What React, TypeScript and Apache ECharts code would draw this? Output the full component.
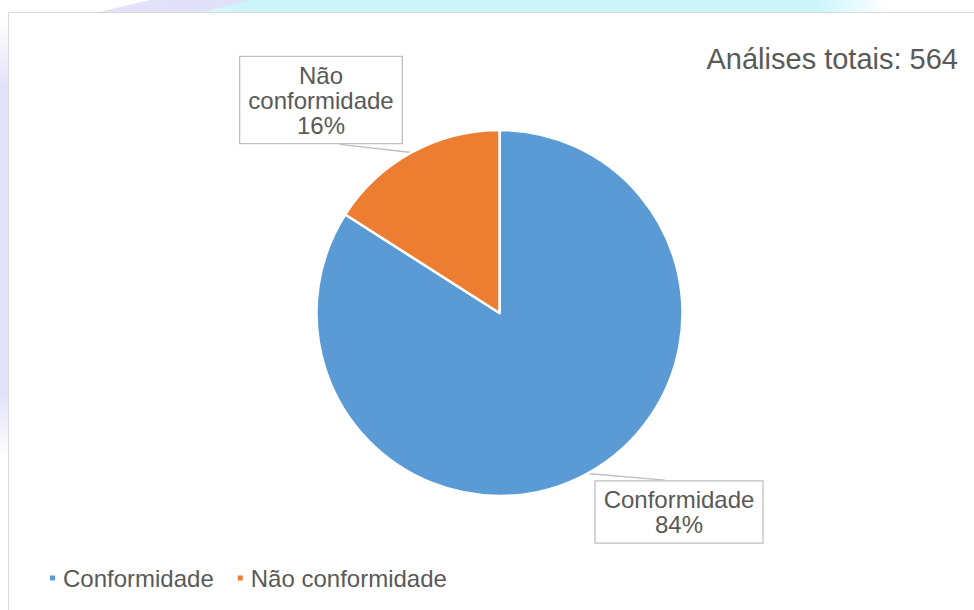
import React, { useEffect, useRef } from 'react';
import * as echarts from 'echarts';

// ---- data ----
const categories: string[] = ['Conformidade', 'Não conformidade'];
const values: number[] = [474, 90];
const titleText = 'Análises totais: 564';

// ---- styling / layout ----
const sliceColors = ['#5B9BD5', '#ED7D31'];
const textColor = '#595959';
const FONT = '"Liberation Sans", Arial, sans-serif';
// label box centre and where its leader line attaches (offset from centre x, top/bottom edge)
const labelAnchors: Record<number, { x: number; y: number; lineDx: number; edge: 1 | -1 }> = {
  0: { x: 679, y: 512, lineDx: -14, edge: -1 },
  1: { x: 321, y: 100, lineDx: 19, edge: 1 },
};

export default function App() {
  const ref = useRef<HTMLDivElement>(null);

  useEffect(() => {
    document.body.style.margin = '0';
    if (!ref.current) return;
    const chart = echarts.init(ref.current, undefined, { renderer: 'svg' });

    const option: any = {
      animation: false,
      backgroundColor: '#ffffff',
      graphic: [
        {
          type: 'rect',
          z: -10,
          shape: { x: 150, y: 0, width: 740, height: 13 },
          style: {
            fill: new echarts.graphic.LinearGradient(0, 0, 1, 0, [
              { offset: 0, color: 'rgba(204,245,251,0)' },
              { offset: 0.12, color: 'rgba(204,245,251,1)' },
              { offset: 0.9, color: 'rgba(204,245,251,1)' },
              { offset: 1, color: 'rgba(204,245,251,0)' },
            ]),
          },
        },
        {
          type: 'polygon',
          z: -9,
          shape: { points: [[95, 13], [150, 0], [250, 0], [200, 13]] },
          style: { fill: 'rgba(225,222,250,0.9)' },
        },
        {
          type: 'rect',
          z: -9,
          shape: { x: 0, y: 20, width: 9, height: 440 },
          style: {
            fill: new echarts.graphic.LinearGradient(0, 0, 0, 1, [
              { offset: 0, color: 'rgba(228,226,250,0)' },
              { offset: 0.15, color: 'rgba(228,226,250,1)' },
              { offset: 0.85, color: 'rgba(228,226,250,1)' },
              { offset: 1, color: 'rgba(228,226,250,0)' },
            ]),
          },
        },
        {
          type: 'rect',
          z: -5,
          shape: { x: 8.5, y: 12.5, width: 990, height: 620 },
          style: { fill: '#ffffff', stroke: '#D9D9D9', lineWidth: 1 },
        },
      ],
      title: {
        text: titleText,
        right: 11,
        top: 39,
        textStyle: {
          fontFamily: FONT,
          fontSize: 29,
          fontWeight: 'normal',
          color: textColor,
        },
      },
      legend: {
        data: categories,
        left: 43,
        top: 561,
        orient: 'horizontal',
        icon: 'rect',
        itemWidth: 7,
        itemHeight: 7,
        itemGap: 22,
        textStyle: {
          fontFamily: FONT,
          fontSize: 24,
          color: textColor,
          padding: [0, 0, 0, 2],
        },
      },
      series: [
        {
          type: 'pie',
          center: [499.5, 313],
          radius: 183,
          startAngle: 90,
          clockwise: true,
          avoidLabelOverlap: false,
          emphasis: { disabled: true },
          itemStyle: { borderColor: '#ffffff', borderWidth: 2.5 },
          data: categories.map((name, i) => ({
            name,
            value: values[i],
            itemStyle: { color: sliceColors[i] },
          })),
          label: {
            show: true,
            position: 'outside',
            formatter: (p: any) =>
              `${String(p.name).replace(' ', '\n')}\n${Math.round(p.percent)}%`,
            fontFamily: FONT,
            fontSize: 24,
            lineHeight: 25,
            color: textColor,
            align: 'center',
            backgroundColor: '#ffffff',
            borderColor: '#BFBFBF',
            borderWidth: 1.3,
            padding: [6, 8, 5, 8],
          },
          labelLine: {
            show: true,
            length: 10,
            length2: 10,
            smooth: false,
            lineStyle: { color: '#BFBFBF', width: 1.3 },
          },
          labelLayout: (params: any) => {
            const a = labelAnchors[params.dataIndex];
            const h = params.labelRect ? params.labelRect.height : 60;
            const start = params.labelLinePoints ? params.labelLinePoints[0] : [a.x, a.y];
            const end = [a.x + a.lineDx, a.y + a.edge * h / 2];
            return {
              x: a.x,
              y: a.y,
              align: 'center',
              verticalAlign: 'middle',
              labelLinePoints: [start, end, end],
            };
          },
        },
      ],
    };

    chart.setOption(option);
    return () => chart.dispose();
  }, []);

  return <div ref={ref} style={{ width: 974, height: 610 }} />;
}
